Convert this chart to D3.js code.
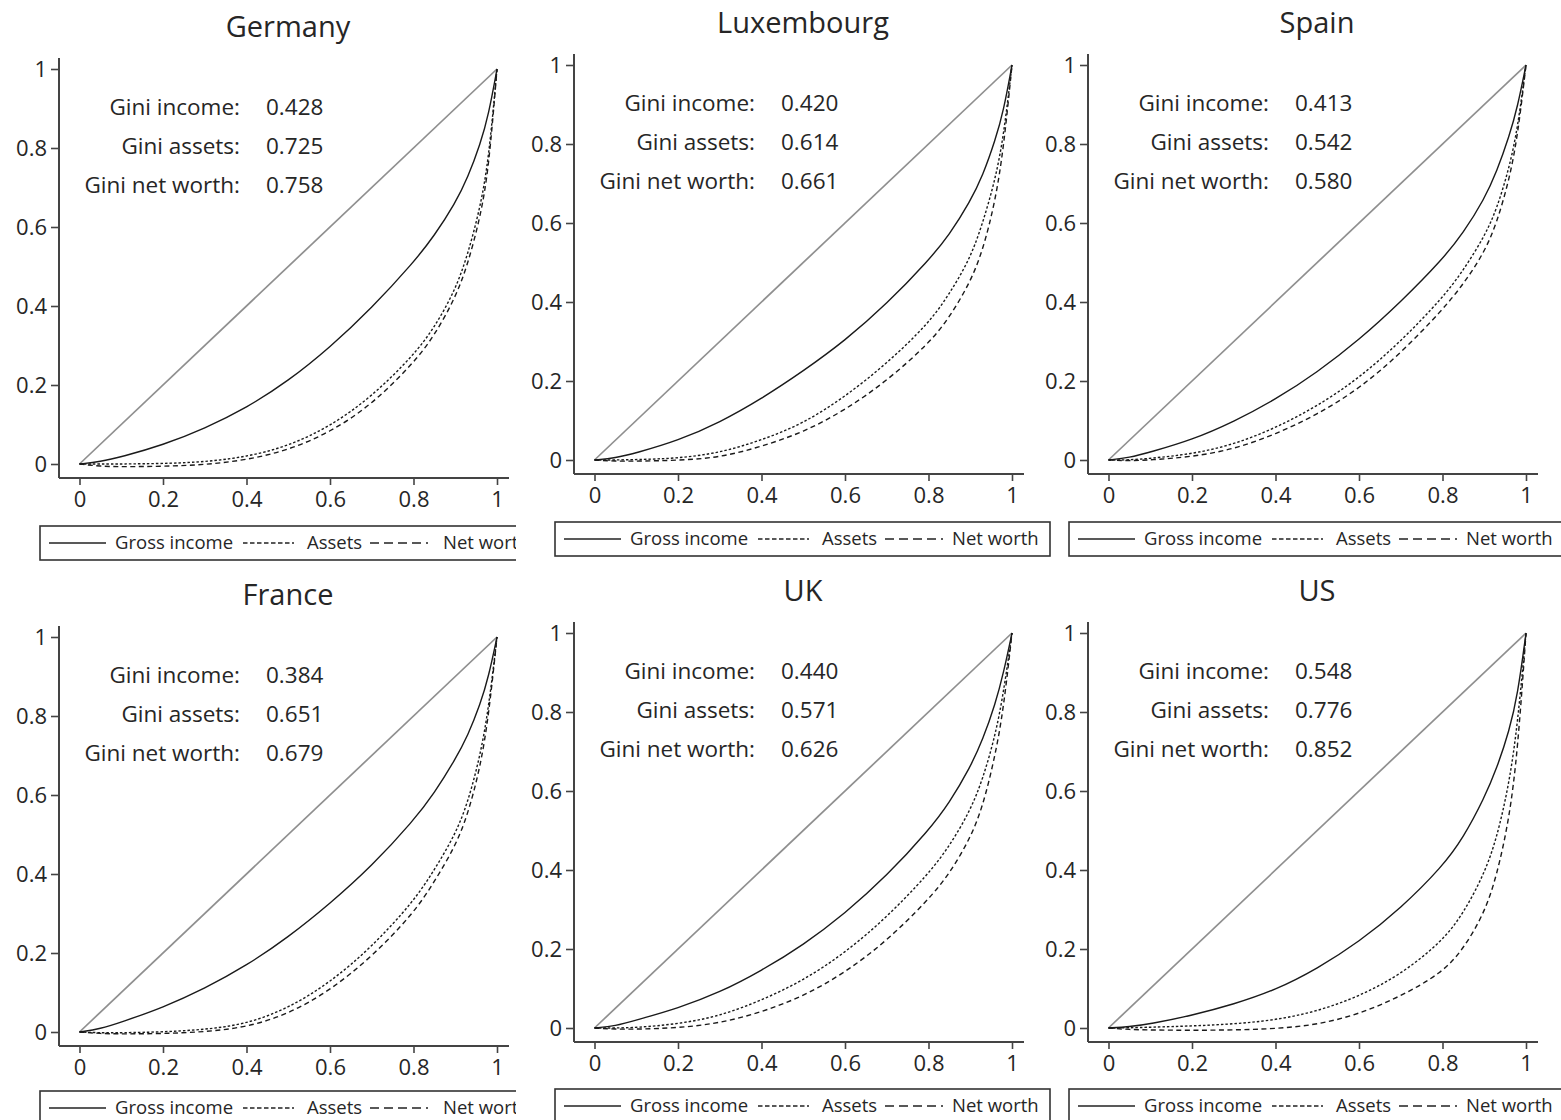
<!DOCTYPE html>
<html>
<head>
<meta charset="utf-8">
<script src="https://cdn.jsdelivr.net/npm/d3@7"></script>
<style>
  body { margin: 0; background: #fff; }
  svg { display: block; font-family: 'Open Sans', sans-serif; }
</style>
</head>
<body>
<svg id="chart" width="1561" height="1120"></svg>
<script>
// ---- data ----
const countries = ['Germany', 'Luxembourg', 'Spain', 'France', 'UK', 'US']
const giniIncome   = ['0.428', '0.420', '0.413', '0.384', '0.440', '0.548']
const giniAssets   = ['0.725', '0.614', '0.542', '0.651', '0.571', '0.776']
const giniNetWorth = ['0.758', '0.661', '0.580', '0.679', '0.626', '0.852']

// cumulative population share (x) shared by every curve
const popShare = [0, 0.05, 0.1, 0.2, 0.3, 0.4, 0.5, 0.6, 0.7, 0.8, 0.85, 0.9, 0.93, 0.96, 0.98, 1]

// cumulative shares (y), one row per country, same order as countries
const incomeShare = [
  [0, 0.006, 0.018, 0.048, 0.09, 0.142, 0.21, 0.295, 0.395, 0.51, 0.578, 0.66, 0.725, 0.81, 0.885, 1],
  [0, 0.005, 0.018, 0.049, 0.095, 0.155, 0.225, 0.302, 0.395, 0.505, 0.57, 0.655, 0.72, 0.81, 0.885, 1],
  [0, 0.006, 0.02, 0.051, 0.097, 0.153, 0.222, 0.304, 0.4, 0.508, 0.575, 0.66, 0.73, 0.82, 0.895, 1],
  [0, 0.008, 0.025, 0.062, 0.11, 0.168, 0.24, 0.325, 0.42, 0.535, 0.605, 0.69, 0.75, 0.83, 0.9, 1],
  [0, 0.005, 0.02, 0.05, 0.09, 0.145, 0.21, 0.29, 0.385, 0.5, 0.57, 0.66, 0.73, 0.82, 0.9, 1],
  [0, 0.003, 0.01, 0.032, 0.06, 0.096, 0.15, 0.218, 0.303, 0.409, 0.482, 0.582, 0.657, 0.753, 0.843, 1]
]
const assetShare = [
  [0, 0, 0, 0.001, 0.005, 0.018, 0.045, 0.095, 0.17, 0.275, 0.345, 0.44, 0.53, 0.65, 0.77, 1],
  [0, 0, 0.001, 0.004, 0.018, 0.05, 0.092, 0.16, 0.244, 0.345, 0.42, 0.51, 0.6, 0.71, 0.82, 1],
  [0, 0, 0.004, 0.015, 0.039, 0.081, 0.136, 0.207, 0.3, 0.41, 0.48, 0.565, 0.635, 0.74, 0.84, 1],
  [0, -0.002, -0.002, 0, 0.006, 0.02, 0.06, 0.125, 0.215, 0.33, 0.41, 0.5, 0.58, 0.7, 0.82, 1],
  [0, 0, 0.001, 0.01, 0.03, 0.07, 0.12, 0.19, 0.28, 0.39, 0.46, 0.55, 0.63, 0.74, 0.85, 1],
  [0, 0.0005, 0.002, 0.005, 0.01, 0.02, 0.042, 0.08, 0.135, 0.22, 0.29, 0.39, 0.48, 0.62, 0.77, 1]
]
const netWorthShare = [
  [0, -0.006, -0.007, -0.006, -0.002, 0.01, 0.035, 0.08, 0.15, 0.255, 0.325, 0.42, 0.505, 0.625, 0.745, 1],
  [0, -0.003, -0.003, -0.001, 0.006, 0.034, 0.07, 0.126, 0.2, 0.294, 0.36, 0.45, 0.53, 0.655, 0.79, 1],
  [0, -0.002, 0, 0.008, 0.027, 0.065, 0.115, 0.18, 0.27, 0.38, 0.445, 0.525, 0.6, 0.71, 0.82, 1],
  [0, -0.004, -0.005, -0.004, 0, 0.012, 0.045, 0.105, 0.19, 0.3, 0.38, 0.47, 0.55, 0.67, 0.8, 1],
  [0, -0.003, -0.003, 0, 0.012, 0.04, 0.08, 0.14, 0.22, 0.325, 0.39, 0.48, 0.56, 0.69, 0.81, 1],
  [0, -0.004, -0.005, -0.006, -0.005, -0.002, 0.008, 0.035, 0.08, 0.14, 0.2, 0.29, 0.385, 0.53, 0.7, 1]
]
const ticks = [0, 0.2, 0.4, 0.6, 0.8, 1]
const seriesNames = ['Gross income', 'Assets', 'Net worth']

// ---- layout ----
const panelX = [0, 515, 1029, 0, 515, 1029]
const panelY = [69, 65, 65, 637, 633, 633]  // y of the value 1
const legendY = [457, 457, 457, 454, 456, 456]
const ink = '#262626'

const svg = d3.select('#chart')

const fmt = d => d === 0 || d === 1 ? String(d) : d3.format('.1f')(d)

const drawPanel = (i) => {
  let ox = panelX[i], oy = panelY[i]
  let cut = i === 0 || i === 3   // germany / france legends are cut off by the next panel
  let g = svg.append('g').attr('transform', `translate(${ox}, ${oy})`)

  let x = d3.scaleLinear().domain([0, 1]).range([79.5, 497])
  let y = d3.scaleLinear().domain([0, 1]).range([395, 0])

  // title
  g.append('text')
    .attr('x', 288).attr('y', -32)
    .attr('text-anchor', 'middle')
    .style('font-size', '29px').style('fill', ink)
    .text(countries[i])

  // axes
  let axL = g.append('g').attr('transform', 'translate(59, 0)')
    .call(d3.axisLeft(y).tickValues(ticks).tickFormat(fmt).tickSize(8).tickPadding(4))
  axL.select('.domain').remove()
  axL.append('line').attr('class', 'ax').attr('x1', 0).attr('x2', 0).attr('y1', -11).attr('y2', 409)

  let axB = g.append('g').attr('transform', 'translate(0, 409)')
    .call(d3.axisBottom(x).tickValues(ticks).tickFormat(fmt).tickSize(7).tickPadding(6))
  axB.select('.domain').remove()
  axB.append('line').attr('class', 'ax').attr('x1', 59).attr('x2', 509).attr('y1', 0).attr('y2', 0)

  g.selectAll('.tick line').attr('stroke', '#444').attr('stroke-width', 1.6)
  g.selectAll('.tick text')
    .style('font-size', '22px').style('font-family', "'Open Sans', sans-serif").attr('fill', ink)
  g.selectAll('.ax').attr('stroke', '#444').attr('stroke-width', 2)

  // equality line
  g.append('line')
    .attr('x1', x(0)).attr('y1', y(0)).attr('x2', x(1)).attr('y2', y(1))
    .attr('stroke', '#8f8f8f').attr('stroke-width', 1.7)

  let line = d3.line()
    .x((d, k) => x(popShare[k]))
    .y(d => y(d))
    .curve(d3.curveBasis)

  let curves = [
    {vals: incomeShare[i], dash: null},
    {vals: assetShare[i], dash: '2.5,2'},
    {vals: netWorthShare[i], dash: '5,3.5'}
  ]
  curves.forEach(c => {
    g.append('path')
      .attr('d', line(c.vals))
      .attr('fill', 'none')
      .attr('stroke', '#1a1a1a')
      .attr('stroke-width', 1.4)
      .attr('stroke-dasharray', c.dash)
  })

  // gini text block
  let gLabels = ['Gini income:', 'Gini assets:', 'Gini net worth:']
  let gVals = [giniIncome[i], giniAssets[i], giniNetWorth[i]]
  gLabels.forEach((t, k) => {
    g.append('text').attr('x', 240).attr('y', 46 + k * 39)
      .attr('text-anchor', 'end').style('font-size', '22.5px').style('fill', ink).text(t)
    g.append('text').attr('x', 266).attr('y', 46 + k * 39)
      .style('font-size', '22.5px').style('fill', ink).text(gVals[k])
  })

  // legend
  let lg = g.append('g').attr('transform', `translate(0, ${legendY[i]})`)
  if (cut) {
    lg.append('clipPath').attr('id', 'clipLeg' + i)
      .append('rect').attr('x', 0).attr('y', -5).attr('width', 516).attr('height', 50)
    lg.attr('clip-path', `url(#clipLeg${i})`)
  }
  lg.append('rect').attr('x', 40).attr('y', 0).attr('width', 495).attr('height', 34)
    .attr('fill', '#fff').attr('stroke', '#333').attr('stroke-width', 1.6)
  let items = [
    {x1: 49, x2: 106, tx: 115, dash: null},
    {x1: 243, x2: 294, tx: 307, dash: '4.5,2.5'},
    {x1: 370, x2: 428, tx: 437, dash: '9,5'}
  ]
  items.forEach((it, k) => {
    lg.append('line').attr('x1', it.x1).attr('x2', it.x2).attr('y1', 17).attr('y2', 17)
      .attr('stroke', '#222').attr('stroke-width', 1.4).attr('stroke-dasharray', it.dash)
    lg.append('text').attr('x', it.tx + (cut && k === 2 ? 6 : 0)).attr('y', 17).attr('dy', '0.35em')
      .style('font-size', '18.5px').style('fill', ink).text(seriesNames[k])
  })
}

countries.forEach((c, i) => drawPanel(i))
</script>
</body>
</html>
